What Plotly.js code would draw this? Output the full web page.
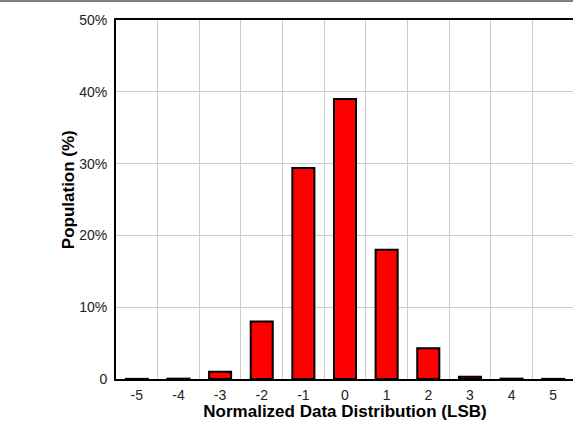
<!DOCTYPE html>
<html>
<head>
<meta charset="utf-8">
<script src="https://cdn.plot.ly/plotly-3.0.1.min.js"></script>
<style>
  html, body { margin: 0; padding: 0; overflow: hidden; background: #fff; }
  #chart { width: 580px; height: 421px; }
</style>
</head>
<body>
<div id="chart"></div>
<script>
// Data
const categories = ['-5', '-4', '-3', '-2', '-1', '0', '1', '2', '3', '4', '5'];
const population = [0.02, 0.05, 1.0, 8.0, 29.4, 39.0, 18.0, 4.3, 0.32, 0.05, 0.02];
const yTickVals = [0, 10, 20, 30, 40, 50];
const yTickText = ['0', '10%', '20%', '30%', '40%', '50%'];

const trace = {
  type: 'bar',
  x: categories,
  y: population,
  width: 0.53,
  marker: { color: '#ff0000', line: { color: '#000000', width: 2 } },
  hoverinfo: 'skip'
};

const layout = {
  width: 580,
  height: 421,
  margin: { l: 116, r: 6, t: 20, b: 42, pad: 0 },
  paper_bgcolor: '#ffffff',
  plot_bgcolor: '#ffffff',
  showlegend: false,
  font: { family: '"Liberation Sans", Arial, sans-serif', size: 14, color: '#222' },
  xaxis: {
    type: 'category',
    tickson: 'boundaries',
    range: [-0.5, 10.5],
    showgrid: true,
    gridcolor: '#cccccc',
    gridwidth: 1,
    showline: true,
    linecolor: '#000',
    linewidth: 2,
    mirror: true,
    ticks: 'outside',
    ticklen: 4,
    ticklabelstandoff: 2,
    tickcolor: 'rgba(0,0,0,0)',
    tickfont: { size: 14, color: '#222' },
    title: { text: '<b>Normalized Data Distribution (LSB)</b>', font: { size: 17, color: '#000' }, standoff: 3 }
  },
  yaxis: {
    range: [0, 50],
    tickvals: yTickVals,
    ticktext: yTickText,
    showgrid: true,
    gridcolor: '#cccccc',
    gridwidth: 1,
    zeroline: false,
    showline: true,
    linecolor: '#000',
    linewidth: 2,
    mirror: true,
    ticks: 'outside',
    ticklen: 4,
    tickcolor: 'rgba(0,0,0,0)',
    tickfont: { size: 14, color: '#222' }
  },
  annotations: [{
    text: '<b>Population (%)</b>',
    textangle: -90,
    xref: 'paper', yref: 'paper',
    x: (69.2 - 116) / 458, y: (379 - 190) / 359,
    xanchor: 'center', yanchor: 'middle',
    showarrow: false,
    font: { size: 17, color: '#000' }
  }],
  shapes: [{
    type: 'line', xref: 'paper', yref: 'paper',
    x0: -0.3, x1: 1.3, y0: 1.053, y1: 1.053,
    line: { color: '#555', width: 1.5 }
  }]
};

Plotly.newPlot('chart', [trace], layout, { staticPlot: true, displayModeBar: false });
</script>
</body>
</html>
